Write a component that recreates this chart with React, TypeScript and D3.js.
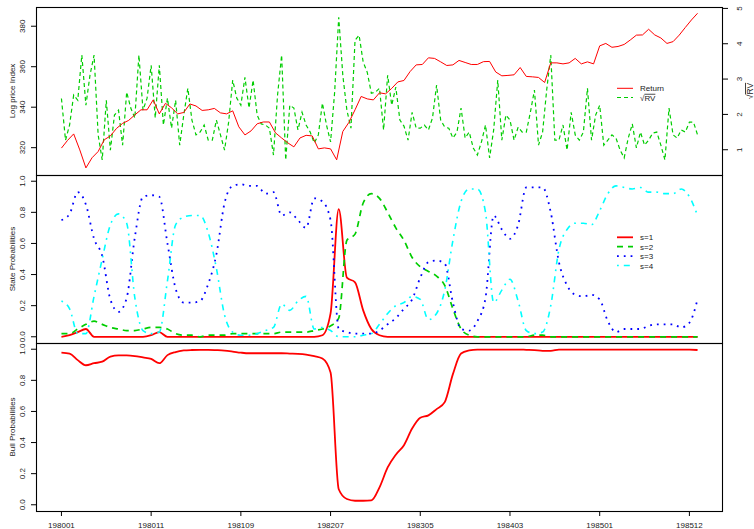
import React from "react";
import * as d3 from "d3";

// weekly index 0..312, x ticks every 44 weeks
const lastWeek = 312;
const weekTicks = [0, 44, 88, 132, 176, 220, 264, 308];
const weekLabels = ["198001", "198011", "198109", "198207", "198305", "198403", "198501", "198512"];

// log price index, one value every 3 weeks
const priceStep = 3;
const logPrice = [
  319.8, 323.6, 326.8, 318.9, 310.0, 315.0, 318.1, 323.9, 325.8, 329.5,
  332.0, 333.5, 336.2, 338.7, 338.7, 343.6, 336.7, 341.9, 339.7, 336.7,
  337.4, 341.6, 340.6, 338.4, 338.7, 339.4, 337.2, 336.7, 338.2, 330.3,
  326.3, 328.3, 331.8, 332.7, 332.7, 327.3, 324.8, 322.4, 320.4, 324.8,
  326.1, 325.8, 319.4, 319.9, 319.4, 314.0, 328.0, 332.5, 338.7, 345.3,
  344.1, 343.6, 347.1, 346.6, 349.3, 352.5, 353.2, 357.6, 360.9, 361.1,
  364.4, 364.1, 362.4, 360.6, 360.9, 363.1, 362.1, 361.1, 361.1, 362.5,
  362.6, 357.4, 355.5, 355.7, 356.0, 359.6, 355.2, 355.0, 354.7, 352.2,
  361.9, 361.9, 361.4, 361.9, 364.1, 361.4, 362.4, 361.4, 370.3, 371.5,
  369.6, 370.0, 371.0, 373.2, 375.6, 375.7, 378.5, 375.7, 374.2, 371.5,
  372.4, 375.6, 379.4, 383.1, 386.4,
];

// square root of realized variance, one value every 2 weeks
const rvStep = 2;
const sqrtRV = [
  2.45, 1.27, 1.70, 2.55, 2.40, 3.68, 2.26, 3.11, 3.68, 1.42,
  0.71, 2.40, 0.99, 1.98, 2.12, 1.13, 2.63, 2.18, 1.90, 3.68,
  2.12, 2.46, 3.39, 1.90, 3.39, 1.70, 2.46, 1.61, 2.40, 1.13,
  1.98, 2.74, 1.84, 1.42, 1.50, 1.70, 1.27, 1.27, 1.84, 1.42,
  0.99, 1.78, 2.97, 2.46, 2.26, 3.05, 2.18, 2.97, 1.98, 1.73,
  1.70, 1.61, 0.85, 2.55, 3.68, 0.71, 2.26, 2.18, 1.56, 2.06,
  1.70, 1.50, 1.19, 1.42, 2.32, 1.70, 1.22, 2.63, 4.75, 3.11,
  2.12, 1.61, 4.10, 4.24, 3.48, 3.19, 2.60, 2.63, 2.74, 1.56,
  3.11, 2.26, 2.77, 1.84, 1.67, 1.27, 2.06, 1.61, 1.61, 1.70,
  1.56, 1.90, 2.83, 1.84, 1.64, 1.61, 1.33, 1.50, 2.18, 1.33,
  1.50, 1.05, 0.85, 1.22, 1.70, 0.77, 1.56, 2.97, 1.27, 1.98,
  1.84, 1.27, 1.64, 1.50, 1.50, 2.06, 2.69, 1.13, 1.50, 2.69,
  3.68, 1.27, 1.27, 1.70, 0.99, 2.06, 1.42, 1.27, 1.50, 2.74,
  1.27, 1.98, 2.26, 1.13, 1.27, 1.42, 1.33, 0.99, 0.77, 1.33,
  1.73, 1.05, 1.50, 1.13, 1.27, 1.47, 1.50, 1.13, 0.71, 2.18,
  1.42, 1.33, 1.56, 1.50, 1.78, 1.78, 1.42,
];

// state probabilities, one value every 4 weeks
const probStep = 4;
const probS1 = [
  0.00, 0.01, 0.03, 0.05, 0.00, 0.00, 0.00, 0.00, 0.00, 0.00,
  0.00, 0.01, 0.03, 0.00, 0.00, 0.00, 0.00, 0.00, 0.00, 0.00,
  0.00, 0.00, 0.00, 0.00, 0.00, 0.00, 0.00, 0.00, 0.00, 0.00,
  0.00, 0.00, 0.01, 0.15, 0.82, 0.38, 0.35, 0.17, 0.05, 0.01,
  0.00, 0.00, 0.00, 0.00, 0.00, 0.00, 0.00, 0.00, 0.00, 0.00,
  0.00, 0.00, 0.00, 0.00, 0.00, 0.00, 0.00, 0.00, 0.00, 0.00,
  0.00, 0.00, 0.00, 0.00, 0.00, 0.00, 0.00, 0.00, 0.00, 0.00,
  0.00, 0.00, 0.00, 0.00, 0.00, 0.00, 0.00, 0.00, 0.00,
];
const probS2 = [
  0.02, 0.02, 0.05, 0.08, 0.10, 0.08, 0.06, 0.05, 0.04, 0.04,
  0.05, 0.06, 0.06, 0.05, 0.02, 0.01, 0.01, 0.00, 0.01, 0.01,
  0.01, 0.02, 0.02, 0.02, 0.02, 0.02, 0.02, 0.03, 0.03, 0.03,
  0.03, 0.04, 0.05, 0.07, 0.12, 0.62, 0.66, 0.86, 0.92, 0.89,
  0.80, 0.70, 0.62, 0.51, 0.45, 0.42, 0.39, 0.33, 0.18, 0.05,
  0.01, 0.00, 0.00, 0.00, 0.00, 0.00, 0.00, 0.00, 0.01, 0.01,
  0.00, 0.00, 0.00, 0.00, 0.00, 0.00, 0.00, 0.00, 0.00, 0.00,
  0.00, 0.00, 0.00, 0.00, 0.00, 0.00, 0.00, 0.00, 0.00,
];
const probS3 = [
  0.75, 0.79, 0.93, 0.85, 0.63, 0.52, 0.24, 0.16, 0.25, 0.64,
  0.90, 0.91, 0.90, 0.60, 0.31, 0.22, 0.22, 0.23, 0.34, 0.53,
  0.86, 0.97, 0.98, 0.97, 0.97, 0.92, 0.93, 0.78, 0.80, 0.75,
  0.70, 0.89, 0.87, 0.75, 0.05, 0.03, 0.02, 0.02, 0.02, 0.04,
  0.08, 0.12, 0.18, 0.24, 0.38, 0.48, 0.49, 0.47, 0.22, 0.05,
  0.04, 0.10, 0.25, 0.78, 0.69, 0.63, 0.72, 0.96, 0.96, 0.96,
  0.80, 0.48, 0.33, 0.27, 0.26, 0.27, 0.24, 0.10, 0.03, 0.05,
  0.05, 0.05, 0.07, 0.08, 0.08, 0.08, 0.06, 0.09, 0.24,
];
const probS4 = [
  0.23, 0.18, 0.02, 0.02, 0.26, 0.50, 0.72, 0.79, 0.73, 0.25,
  0.04, 0.02, 0.03, 0.36, 0.72, 0.77, 0.78, 0.78, 0.67, 0.44,
  0.14, 0.03, 0.01, 0.01, 0.02, 0.04, 0.06, 0.21, 0.17, 0.23,
  0.26, 0.05, 0.06, 0.04, 0.00, 0.00, 0.00, 0.01, 0.02, 0.08,
  0.15, 0.20, 0.22, 0.26, 0.24, 0.11, 0.15, 0.30, 0.62, 0.87,
  0.95, 0.95, 0.80, 0.22, 0.30, 0.37, 0.23, 0.04, 0.02, 0.03,
  0.20, 0.56, 0.69, 0.73, 0.73, 0.72, 0.81, 0.92, 0.97, 0.96,
  0.95, 0.96, 0.93, 0.93, 0.92, 0.92, 0.95, 0.90, 0.78,
];

// bull regime probability, one value every 4 weeks
const bullProb = [
  0.978, 0.972, 0.930, 0.897, 0.910, 0.920, 0.952, 0.960, 0.960, 0.956,
  0.947, 0.938, 0.910, 0.962, 0.982, 0.992, 0.995, 0.996, 0.996, 0.994,
  0.991, 0.985, 0.978, 0.974, 0.974, 0.974, 0.974, 0.974, 0.972, 0.970,
  0.965, 0.955, 0.940, 0.850, 0.100, 0.037, 0.026, 0.026, 0.028, 0.112,
  0.240, 0.322, 0.383, 0.490, 0.559, 0.575, 0.615, 0.660, 0.840, 0.972,
  0.992, 0.998, 0.998, 0.998, 0.998, 0.998, 0.998, 0.996, 0.994, 0.990,
  0.990, 0.997, 0.998, 0.998, 0.998, 0.998, 0.998, 0.998, 0.998, 0.998,
  0.998, 0.998, 0.998, 0.998, 0.998, 0.998, 0.998, 0.998, 0.995,
];

const priceTicks = [320, 340, 360, 380];
const rvTicks = [1, 2, 3, 4, 5];
const probTicks = [0, 0.2, 0.4, 0.6, 0.8, 1];

const stateNames = ["s=1", "s=2", "s=3", "s=4"];
const stateColors = ["#ff0000", "#00cd00", "#0000ff", "#00ffff"];
const stateDash = ["", "6,5", "1.8,5", "1.8,5,6,5"];
const stateWidth = [1.8, 1.7, 1.8, 1.6];

const W = 754;
const H = 529;
const L = 36;
const R = 723;
const FONT = "'Liberation Sans', Arial, Helvetica, sans-serif";

function lineFor(values: number[], step: number, x: any, y: any, curve: any = d3.curveLinear) {
  return d3
    .line<number>()
    .x((_, i) => x(i * step))
    .y((d) => y(d))
    .curve(curve)(values) as string;
}

const App = () => {
  const x = d3.scaleLinear().domain([-0.04 * lastWeek, 1.04 * lastWeek]).range([L, R]);

  const top = { y0: 7, y1: 175 };
  const mid = { y0: 175, y1: 343 };
  const bot = { y0: 343, y1: 511 };

  const yPrice = d3.scaleLinear().domain([306.5, 389.5]).range([top.y1, top.y0]);
  const yRV = d3.scaleLinear().domain([0.285, 5.04]).range([top.y1, top.y0]);
  const yState = d3.scaleLinear().domain([-0.04, 1.04]).range([mid.y1, mid.y0]);
  const yBull = d3.scaleLinear().domain([-0.04, 1.04]).range([bot.y1, bot.y0]);

  const states = [probS1, probS2, probS3, probS4];

  const leftAxis = (scale: any, ticks: number[], fmt: (v: number) => string) => (
    <g>
      {ticks.map((t) => (
        <g key={t}>
          <line x1={L - 5} x2={L} y1={scale(t)} y2={scale(t)} stroke="#000" />
          <text
            transform={`translate(25,${scale(t)}) rotate(-90)`}
            textAnchor="middle"
            fontSize={8}
            fill="#222"
          >
            {fmt(t)}
          </text>
        </g>
      ))}
    </g>
  );

  const yTitle = (label: string, cy: number) => (
    <text transform={`translate(14.5,${cy}) rotate(-90)`} textAnchor="middle" fontSize={8} fill="#222">
      {label}
    </text>
  );

  return (
    <svg
      width={W}
      height={H}
      style={{ position: "absolute", left: 0, top: 0, background: "#fff" }}
      fontFamily={FONT}
    >
      <defs>
        <clipPath id="clipTop">
          <rect x={L} y={top.y0} width={R - L} height={top.y1 - top.y0} />
        </clipPath>
        <clipPath id="clipMid">
          <rect x={L} y={mid.y0} width={R - L} height={mid.y1 - mid.y0} />
        </clipPath>
        <clipPath id="clipBot">
          <rect x={L} y={bot.y0} width={R - L} height={bot.y1 - bot.y0} />
        </clipPath>
      </defs>

      {/* top panel: price and sqrt RV */}
      <g clipPath="url(#clipTop)">
        <path d={lineFor(sqrtRV, rvStep, x, yRV)} fill="none" stroke="#00cd00" strokeWidth={1.2} strokeDasharray="4,3" />
        <path d={lineFor(logPrice, priceStep, x, yPrice)} fill="none" stroke="#ff0000" strokeWidth={1} />
      </g>
      {leftAxis(yPrice, priceTicks, (v) => String(v))}
      {yTitle("Log price Index", (top.y0 + top.y1) / 2)}
      {rvTicks.map((t) => (
        <g key={t}>
          <line x1={R} x2={R + 5} y1={yRV(t)} y2={yRV(t)} stroke="#000" />
          <text transform={`translate(741.5,${yRV(t)}) rotate(-90)`} textAnchor="middle" fontSize={8} fill="#222">
            {t}
          </text>
        </g>
      ))}
      <text transform={`translate(753,${(top.y0 + top.y1) / 2}) rotate(-90)`} textAnchor="middle" fontSize={8.5} fill="#222">
        √<tspan style={{ textDecoration: "overline" }}>RV</tspan>
      </text>
      <g fontSize={8} fill="#222">
        <line x1={617} x2={633} y1={88.3} y2={88.3} stroke="#ff0000" strokeWidth={1} />
        <text x={640} y={91.3}>Return</text>
        <line x1={617} x2={633} y1={97.5} y2={97.5} stroke="#00cd00" strokeWidth={1.2} strokeDasharray="4,3" />
        <text x={640} y={100.8}>
          √<tspan style={{ textDecoration: "overline" }}>RV</tspan>
        </text>
      </g>

      {/* middle panel: state probabilities */}
      <g clipPath="url(#clipMid)">
        {states.map((s, i) => (
          <path
            key={i}
            d={lineFor(s, probStep, x, yState, d3.curveMonotoneX)}
            fill="none"
            stroke={stateColors[i]}
            strokeWidth={stateWidth[i]}
            strokeDasharray={stateDash[i] || undefined}
          />
        ))}
      </g>
      {leftAxis(yState, probTicks, (v) => v.toFixed(1))}
      {yTitle("State Probabilities", (mid.y0 + mid.y1) / 2)}
      <g fontSize={8} fill="#222">
        {stateNames.map((n, i) => {
          const ly = 237.3 + i * 9.4;
          return (
            <g key={n}>
              <line
                x1={617}
                x2={633}
                y1={ly}
                y2={ly}
                stroke={stateColors[i]}
                strokeWidth={stateWidth[i]}
                strokeDasharray={stateDash[i] || undefined}
              />
              <text x={640} y={ly + 3}>
                {n}
              </text>
            </g>
          );
        })}
      </g>

      {/* bottom panel: bull probability */}
      <g clipPath="url(#clipBot)">
        <path d={lineFor(bullProb, probStep, x, yBull, d3.curveMonotoneX)} fill="none" stroke="#ff0000" strokeWidth={1.8} />
      </g>
      {leftAxis(yBull, probTicks, (v) => v.toFixed(1))}
      {yTitle("Bull Probabilities", (bot.y0 + bot.y1) / 2)}

      {/* x axis */}
      {weekTicks.map((w, i) => (
        <g key={w}>
          <line x1={x(w)} x2={x(w)} y1={bot.y1} y2={bot.y1 + 5} stroke="#000" />
          <text x={x(w)} y={528} textAnchor="middle" fontSize={8} fill="#222">
            {weekLabels[i]}
          </text>
        </g>
      ))}

      {/* panel boxes */}
      {[top, mid, bot].map((p, i) => (
        <rect key={i} x={L + 0.5} y={p.y0 + 0.5} width={R - L - 1} height={p.y1 - p.y0} fill="none" stroke="#000" strokeWidth={1.1} />
      ))}
    </svg>
  );
};

export default App;
